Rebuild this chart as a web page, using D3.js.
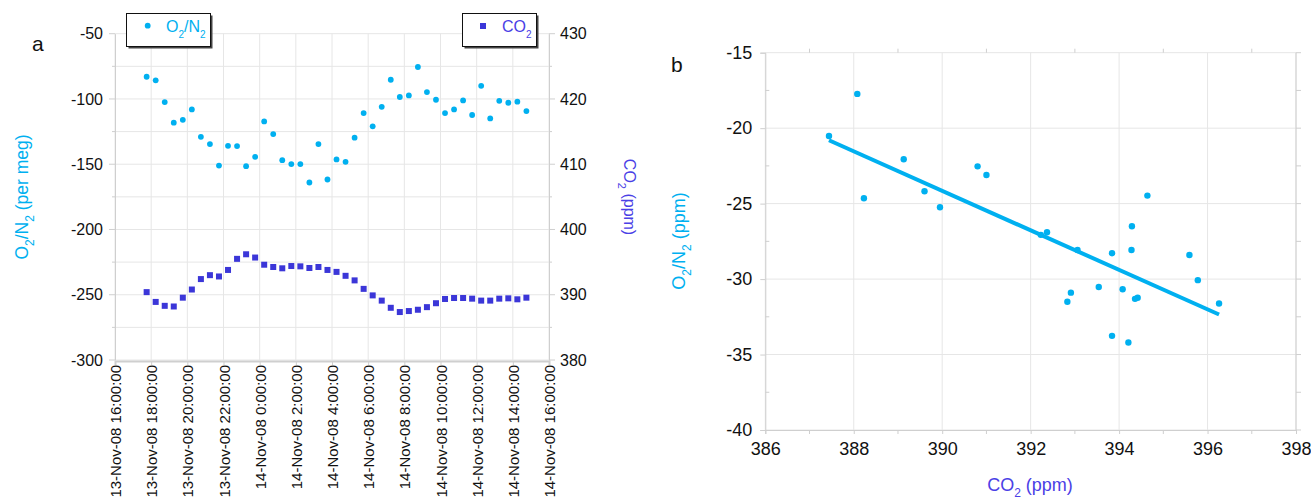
<!DOCTYPE html>
<html>
<head>
<meta charset="utf-8">
<script src="https://cdn.jsdelivr.net/npm/d3@7"></script>
<style>
  body { margin: 0; background: #fff; }
  svg { display: block; font-family: Arial, "Liberation Sans", sans-serif; }
</style>
</head>
<body>
<svg id="chart" width="1311" height="502"></svg>
<script>
// --- DATA: panel a (time series) ---
var timesA = [
  "13-Nov-08 17:45", "13-Nov-08 18:15", "13-Nov-08 18:45", "13-Nov-08 19:15", "13-Nov-08 19:45",
  "13-Nov-08 20:15", "13-Nov-08 20:45", "13-Nov-08 21:15", "13-Nov-08 21:45", "13-Nov-08 22:15",
  "13-Nov-08 22:45", "13-Nov-08 23:15", "13-Nov-08 23:45", "14-Nov-08 00:15", "14-Nov-08 00:45",
  "14-Nov-08 01:15", "14-Nov-08 01:45", "14-Nov-08 02:15", "14-Nov-08 02:45", "14-Nov-08 03:15",
  "14-Nov-08 03:45", "14-Nov-08 04:15", "14-Nov-08 04:45", "14-Nov-08 05:15", "14-Nov-08 05:45",
  "14-Nov-08 06:15", "14-Nov-08 06:45", "14-Nov-08 07:15", "14-Nov-08 07:45", "14-Nov-08 08:15",
  "14-Nov-08 08:45", "14-Nov-08 09:15", "14-Nov-08 09:45", "14-Nov-08 10:15", "14-Nov-08 10:45",
  "14-Nov-08 11:15", "14-Nov-08 11:45", "14-Nov-08 12:15", "14-Nov-08 12:45", "14-Nov-08 13:15",
  "14-Nov-08 13:45", "14-Nov-08 14:15", "14-Nov-08 14:45"
];
var o2n2A = [
  -83, -85.7, -102.4, -118.2, -116, -108, -129, -134.6, -151, -135.9,
  -136.1, -151.5, -144.3, -117.2, -126.9, -146.9, -149.9, -149.9, -164, -134.6,
  -161.7, -146.3, -148.2, -129.7, -110.8, -121, -106, -85.3, -98.5, -97.3,
  -75.5, -94.7, -100.6, -110.8, -108, -101.1, -112.3, -89.9, -114.9, -101.4,
  -102.9, -102.1, -109.3
];
var co2A = [
  390.4, 388.9, 388.3, 388.2, 389.55, 390.8, 392.4, 393.0, 392.8, 393.8,
  395.5, 396.2, 395.7, 394.6, 394.25, 394.05, 394.4, 394.35, 394.1, 394.25,
  393.8, 393.5, 392.9, 392.2, 390.9, 389.9, 389.1, 388.0, 387.35, 387.5,
  387.7, 388.1, 388.7, 389.35, 389.5, 389.5, 389.4, 389.1, 389.1, 389.4,
  389.45, 389.3, 389.55
];
var timeDomainA = ["13-Nov-08 16:00", "14-Nov-08 16:00"];
var o2n2DomainA = [-300, -50];
var co2DomainA = [380, 430];

// --- DATA: panel b (scatter + fit) ---
var co2B = [
  387.44, 388.08, 388.23, 389.13, 389.6, 389.95, 390.8, 391.0, 392.23, 392.37,
  393.06, 392.83, 392.91, 393.54, 393.84, 393.84, 394.08, 394.21, 394.28, 394.29,
  394.36, 394.42, 394.64, 395.59, 395.78, 396.26
];
var o2n2B = [
  -20.52, -17.73, -24.64, -22.06, -24.18, -25.24, -22.53, -23.1, -27.07, -26.9,
  -28.07, -31.5, -30.9, -30.52, -28.29, -33.76, -30.67, -34.2, -28.07, -26.5,
  -31.31, -31.24, -24.47, -28.4, -30.07, -31.62
];
var fitX = [387.44, 396.26];
var fitY = [-20.8, -32.35];
var co2DomainB = [386, 398];
var o2n2DomainB = [-40, -15];

// --- COLOURS ---
var cyan = "#00b0f0";
var blue = "#3b36d8";
var blueText = "#4a40e6";
var gridColor = "#e6e6e6";
var axisColor = "#cfcfcf";

var svg = d3.select("#chart");
var parseT = d3.timeParse("%d-%b-%y %H:%M");
var fmtT = d3.timeFormat("%d-%b-%y %-H:%M:%S");
var plain = function(d) { return String(d); }; // hyphen minus, like the original

// strip d3's default axis font so the svg font is used
function styleAxis(a, size) {
  a.attr("font-family", null).attr("font-size", null);
  a.select(".domain").attr("stroke", axisColor);
  a.selectAll(".tick line").attr("stroke", axisColor);
  a.selectAll("text").attr("fill", "#111").attr("font-size", size);
}

// text with subscript "2" pieces: parts = [[text, isSub], ...]
function subText(sel, parts, size, subSize) {
  sel.attr("font-size", size);
  var down = false;
  parts.forEach(function(p) {
    var ts = sel.append("tspan").text(p[0]);
    if (p[1] && !down) { ts.attr("font-size", subSize).attr("dy", 6); down = true; }
    else if (p[1]) { ts.attr("font-size", subSize); }
    else if (down) { ts.attr("dy", -6); down = false; }
  });
}

// =============== PANEL A ===============
var ax = d3.scaleTime().domain(timeDomainA.map(parseT)).range([115, 549]);
var ayL = d3.scaleLinear().domain(o2n2DomainA).range([360, 33.7]);
var ayR = d3.scaleLinear().domain(co2DomainA).range([360, 33.7]);

var ga = svg.append("g");

// grid
var yMinorA = d3.range(o2n2DomainA[0], o2n2DomainA[1] + 1, 25);
ga.append("g").selectAll("line").data(yMinorA).enter().append("line")
  .attr("x1", 115).attr("x2", 549)
  .attr("y1", d => ayL(d)).attr("y2", d => ayL(d))
  .attr("stroke", gridColor).attr("stroke-width", 1);
var xTicksA = ax.ticks(d3.timeHour.every(2));
ga.append("g").selectAll("line").data(xTicksA).enter().append("line")
  .attr("x1", d => ax(d)).attr("x2", d => ax(d))
  .attr("y1", 33.7).attr("y2", 360)
  .attr("stroke", gridColor).attr("stroke-width", 1);

// ticks
ga.append("g").selectAll("line").data(yMinorA).enter().append("line")
  .attr("x1", d => (d % 50 === 0 ? 109 : 112)).attr("x2", 115)
  .attr("y1", d => ayL(d)).attr("y2", d => ayL(d))
  .attr("stroke", axisColor);
var yRTicks = d3.range(co2DomainA[0], co2DomainA[1] + 1, 5);
ga.append("g").selectAll("line").data(yRTicks).enter().append("line")
  .attr("x1", 549).attr("x2", d => (d % 10 === 0 ? 555 : 552))
  .attr("y1", d => ayR(d)).attr("y2", d => ayR(d))
  .attr("stroke", axisColor);

// axes
var leftA = ga.append("g").attr("transform", "translate(115,0)")
  .call(d3.axisLeft(ayL).tickValues(d3.range(-300, -49, 50)).tickFormat(plain).tickSize(0).tickPadding(12));
var rightA = ga.append("g").attr("transform", "translate(549,0)")
  .call(d3.axisRight(ayR).tickValues(d3.range(380, 431, 10)).tickFormat(plain).tickSize(0).tickPadding(11));
var bottomA = ga.append("g").attr("transform", "translate(0,361)")
  .call(d3.axisBottom(ax).tickValues(xTicksA).tickFormat(fmtT).tickSize(4));

styleAxis(leftA, 16);
styleAxis(rightA, 16);
styleAxis(bottomA, 15);
bottomA.select(".domain").attr("stroke-width", 2);
bottomA.selectAll("text")
  .attr("text-anchor", "end")
  .attr("transform", "rotate(-90)")
  .attr("x", -4).attr("y", 0).attr("dy", "0.37em");

// series
ga.append("g").selectAll("rect").data(co2A).enter().append("rect")
  .attr("x", (d, i) => ax(parseT(timesA[i])) - 3)
  .attr("y", d => ayR(d) - 3)
  .attr("width", 6).attr("height", 6)
  .attr("fill", blue);
ga.append("g").selectAll("circle").data(o2n2A).enter().append("circle")
  .attr("cx", (d, i) => ax(parseT(timesA[i])))
  .attr("cy", d => ayL(d))
  .attr("r", 2.9)
  .attr("fill", cyan);

// legends
function legendBox(g, x, y, w, h) {
  g.append("rect").attr("x", x + 2).attr("y", y + 2).attr("width", w).attr("height", h).attr("fill", "#444");
  g.append("rect").attr("x", x).attr("y", y).attr("width", w).attr("height", h)
    .attr("fill", "#fff").attr("stroke", "#111").attr("stroke-width", 1);
}
legendBox(ga, 126.5, 13.5, 84, 33);
ga.append("circle").attr("cx", 147.7).attr("cy", 25.7).attr("r", 2.9).attr("fill", cyan);
subText(ga.append("text").attr("x", 166).attr("y", 31.5).attr("fill", cyan),
  [["O"], ["2", 1], ["/N"], ["2", 1]], 16, 10);

legendBox(ga, 462.5, 13.5, 74, 33);
ga.append("rect").attr("x", 480).attr("y", 23).attr("width", 6).attr("height", 6).attr("fill", blue);
subText(ga.append("text").attr("x", 502).attr("y", 31.5).attr("fill", blueText),
  [["CO"], ["2", 1]], 16, 10);

// axis titles
subText(ga.append("text").attr("transform", "translate(28,197) rotate(-90)")
  .attr("text-anchor", "middle").attr("fill", cyan),
  [["O"], ["2", 1], ["/N"], ["2", 1], [" (per meg)"]], 17.5, 12);

subText(ga.append("text").attr("transform", "translate(624,197) rotate(90)")
  .attr("text-anchor", "middle").attr("fill", blueText),
  [["CO"], ["2", 1], ["  (ppm)"]], 16, 11);

ga.append("text").attr("x", 32).attr("y", 51).attr("font-size", 21).attr("fill", "#111").text("a");

// =============== PANEL B ===============
var bx = d3.scaleLinear().domain(co2DomainB).range([765.3, 1296]);
var by = d3.scaleLinear().domain(o2n2DomainB).range([430, 52.7]);
var gb = svg.append("g");

var xMajB = d3.range(386, 399, 2);
var yMajB = d3.range(-40, -14, 5);
var xMinB = d3.range(387, 398, 2);
var yMinB = d3.range(-37.5, -15, 5);

gb.append("g").selectAll("line").data(yMajB).enter().append("line")
  .attr("x1", bx(386)).attr("x2", bx(398)).attr("y1", d => by(d)).attr("y2", d => by(d))
  .attr("stroke", gridColor);
gb.append("g").selectAll("line").data(xMajB).enter().append("line")
  .attr("x1", d => bx(d)).attr("x2", d => bx(d)).attr("y1", by(-40)).attr("y2", by(-15))
  .attr("stroke", gridColor);

// minor ticks on all four sides
gb.append("g").selectAll("line").data(xMinB).enter().append("line")
  .attr("x1", d => bx(d)).attr("x2", d => bx(d)).attr("y1", by(-40)).attr("y2", by(-40) + 4)
  .attr("stroke", axisColor);
gb.append("g").selectAll("line").data(xMinB).enter().append("line")
  .attr("x1", d => bx(d)).attr("x2", d => bx(d)).attr("y1", by(-15)).attr("y2", by(-15) - 4)
  .attr("stroke", axisColor);
gb.append("g").selectAll("line").data(yMinB).enter().append("line")
  .attr("x1", bx(386)).attr("x2", bx(386) + 4).attr("y1", d => by(d)).attr("y2", d => by(d))
  .attr("stroke", axisColor);
gb.append("g").selectAll("line").data(yMinB.concat(yMajB)).enter().append("line")
  .attr("x1", bx(398)).attr("x2", bx(398) + 5).attr("y1", d => by(d)).attr("y2", d => by(d))
  .attr("stroke", axisColor);

var leftB = gb.append("g").attr("transform", "translate(" + bx(386) + ",0)")
  .call(d3.axisLeft(by).tickValues(yMajB).tickFormat(plain).tickSize(5).tickPadding(8));
var bottomB = gb.append("g").attr("transform", "translate(0," + by(-40) + ")")
  .call(d3.axisBottom(bx).tickValues(xMajB).tickFormat(plain).tickSize(4).tickPadding(8));
gb.append("line").attr("x1", bx(398)).attr("x2", bx(398)).attr("y1", by(-40)).attr("y2", by(-15))
  .attr("stroke", axisColor);

styleAxis(leftB, 18);
styleAxis(bottomB, 18);

// fit line
gb.append("line")
  .attr("x1", bx(fitX[0])).attr("y1", by(fitY[0]))
  .attr("x2", bx(fitX[1])).attr("y2", by(fitY[1]))
  .attr("stroke", cyan).attr("stroke-width", 4);

gb.append("g").selectAll("circle").data(co2B).enter().append("circle")
  .attr("cx", d => bx(d))
  .attr("cy", (d, i) => by(o2n2B[i]))
  .attr("r", 3.2)
  .attr("fill", cyan);

subText(gb.append("text").attr("x", 1030).attr("y", 491).attr("text-anchor", "middle").attr("fill", blueText),
  [["CO"], ["2", 1], [" (ppm)"]], 18, 12);

subText(gb.append("text").attr("transform", "translate(685,241) rotate(-90)")
  .attr("text-anchor", "middle").attr("fill", cyan),
  [["O"], ["2", 1], ["/N"], ["2", 1], [" (ppm)"]], 18, 12);

gb.append("text").attr("x", 671).attr("y", 72).attr("font-size", 21).attr("fill", "#111").text("b");
</script>
</body>
</html>
